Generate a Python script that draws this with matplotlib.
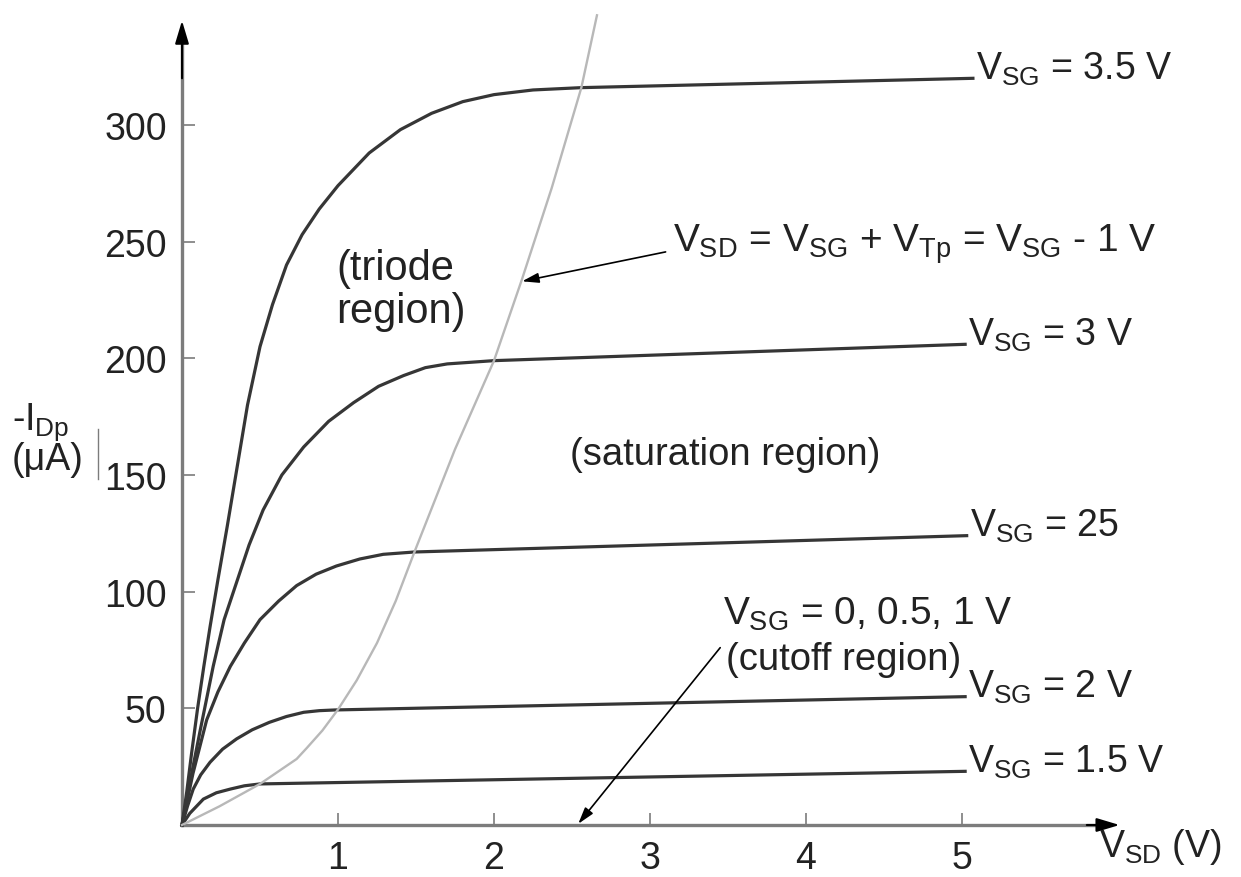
import matplotlib
matplotlib.use("Agg")
import matplotlib.pyplot as plt

plt.rcParams['font.family'] = ['Liberation Sans', 'DejaVu Sans']
plt.rcParams['mathtext.fontset'] = 'custom'
plt.rcParams['mathtext.rm'] = 'Liberation Sans'
plt.rcParams['mathtext.it'] = 'Liberation Sans'

# values (V_SD in V, -I_Dp in uA)
vsd_35 = [0, 0.03, 0.06, 0.10, 0.14, 0.18, 0.23, 0.29, 0.35, 0.42, 0.50, 0.58, 0.67, 0.77,
          0.88, 1.00, 1.20, 1.40, 1.60, 1.80, 2.00, 2.25, 2.56, 5.07]
id_35 = [0, 14, 30, 50, 68, 85, 105, 128, 152, 180, 205, 223, 240, 253,
         264, 274, 288, 298, 305, 310, 313, 315, 316, 320]

vsd_30 = [0, 0.05, 0.115, 0.20, 0.27, 0.35, 0.43, 0.52, 0.64, 0.78, 0.94, 1.10, 1.26,
          1.42, 1.56, 1.70, 2.00, 5.02]
id_30 = [0, 18, 40, 68, 88, 104, 120, 135, 150, 162, 173, 181, 188,
         192.6, 196, 197.6, 199, 206]

vsd_25 = [0, 0.07, 0.158, 0.23, 0.31, 0.40, 0.50, 0.62, 0.735, 0.86, 0.99, 1.14, 1.29, 1.49, 5.03]
id_25 = [0, 22, 45, 57, 68, 78, 88, 96, 102.6, 107.5, 111, 114, 116, 117, 124]

vsd_20 = [0, 0.035, 0.072, 0.12, 0.18, 0.26, 0.35, 0.45, 0.56, 0.67, 0.78, 0.88, 0.98, 5.02]
id_20 = [0, 8, 15.4, 21.5, 26.9, 32.5, 36.9, 40.8, 44, 46.5, 48.3, 49, 49.3, 55]

vsd_15 = [0, 0.05, 0.137, 0.22, 0.31, 0.40, 0.50, 5.02]
id_15 = [0, 5, 11.1, 13.8, 15.4, 16.8, 17.6, 23]

# edge of saturation, V_SD = V_SG - 1
vsd_edge = [0, 0.24, 0.50, 0.735, 0.80, 0.90, 1.00, 1.12, 1.25, 1.37, 1.49, 1.75, 2.00,
            2.18, 2.37, 2.56, 2.66]
id_edge = [0, 8, 17.6, 28.3, 33, 40.5, 49.5, 62, 78, 96, 117, 161, 199,
           234, 273, 316, 347]

curve_labels = [r'$V_{SG}$ = 3.5 V', r'$V_{SG}$ = 3 V', r'$V_{SG}$ = 25',
                r'$V_{SG}$ = 2 V', r'$V_{SG}$ = 1.5 V']
x_ticks = [1, 2, 3, 4, 5]
y_ticks = [50, 100, 150, 200, 250, 300]

dark = '#363636'
ink = '#222222'
axis_gray = '#7c7c7c'

fig = plt.figure(figsize=(12.41, 8.78), dpi=100)
ax = fig.add_axes([182 / 1241, 52 / 878, 951.6 / 1241, 816.7 / 878])
ax.set_xlim(0, 6.1)
ax.set_ylim(0, 350)
for s in ax.spines.values():
    s.set_visible(False)

curves = [(vsd_35, id_35), (vsd_30, id_30), (vsd_25, id_25), (vsd_20, id_20), (vsd_15, id_15)]
for (vx, iy), lab in zip(curves, curve_labels):
    ax.plot(vx, iy, color=dark, lw=2.3, solid_joinstyle='round', clip_on=False, zorder=3)
    ax.text(vx[-1] + 0.02, iy[-1], lab, fontsize=27, color=ink,
            ha='left', va='baseline')

ax.plot(vsd_edge, id_edge, color='#b8b8b8', lw=1.7, clip_on=False, zorder=4)

# axes with arrows
ax.plot([0, 5.9], [0, 0], color=axis_gray, lw=2.4, clip_on=False, zorder=2)
ax.plot([0, 0], [0, 335], color=axis_gray, lw=2.4, clip_on=False, zorder=2)
head = '-|>,head_length=1.4,head_width=0.42'
ax.annotate('', xy=(6.01, 0), xytext=(5.8, 0), annotation_clip=False,
            arrowprops=dict(arrowstyle=head, color='black', lw=1.5, shrinkA=0, shrinkB=0))
ax.annotate('', xy=(0, 344.7), xytext=(0, 320), annotation_clip=False,
            arrowprops=dict(arrowstyle=head, color='black', lw=1.5, shrinkA=0, shrinkB=0))

ax.set_xticks(x_ticks)
ax.set_yticks(y_ticks)
ax.tick_params(direction='in', length=9, width=1.2, color=axis_gray,
               labelsize=27, labelcolor=ink, pad=11)

# annotations
ax.text(0.99, 234, '(triode', fontsize=30, color=ink, va='baseline')
ax.text(0.99, 215.6, 'region)', fontsize=30, color=ink, va='baseline')
ax.text(2.487, 154.7, '(saturation region)', fontsize=27.5, color=ink, va='baseline')
ax.text(3.15, 246, r'$V_{SD}$ = $V_{SG}$ + $V_{Tp}$ = $V_{SG}$ - 1 V', fontsize=28,
        color=ink, va='baseline')
ax.text(3.47, 86.2, r'$V_{SG}$ = 0, 0.5, 1 V', fontsize=28, color=ink, va='baseline')
ax.text(3.49, 66.9, '(cutoff region)', fontsize=27.5, color=ink, va='baseline')

small = '-|>,head_length=1.0,head_width=0.3'
ax.annotate('', xy=(2.18, 233), xytext=(3.10, 245.6), annotation_clip=False,
            arrowprops=dict(arrowstyle=small, color='black', lw=1.2, shrinkA=0, shrinkB=0))
ax.annotate('', xy=(2.54, 0.5), xytext=(3.45, 76), annotation_clip=False,
            arrowprops=dict(arrowstyle=small, color='black', lw=1.2, shrinkA=0, shrinkB=0))

# y label
ax.text(-1.09, 169.7, r'-$I_{Dp}$', fontsize=27, color=ink, va='baseline')
ax.text(-1.09, 152.6, '(\u03bcA)', fontsize=27, color=ink, va='baseline')
ax.plot([-0.538, -0.538], [148.3, 169.7], color=axis_gray, lw=1.0, clip_on=False)

# x label
ax.text(5.88, -13.3, r'$V_{SD}$ (V)', fontsize=27, color=ink, va='baseline', ha='left')

fig.savefig('out.png', dpi=100, facecolor='white')
